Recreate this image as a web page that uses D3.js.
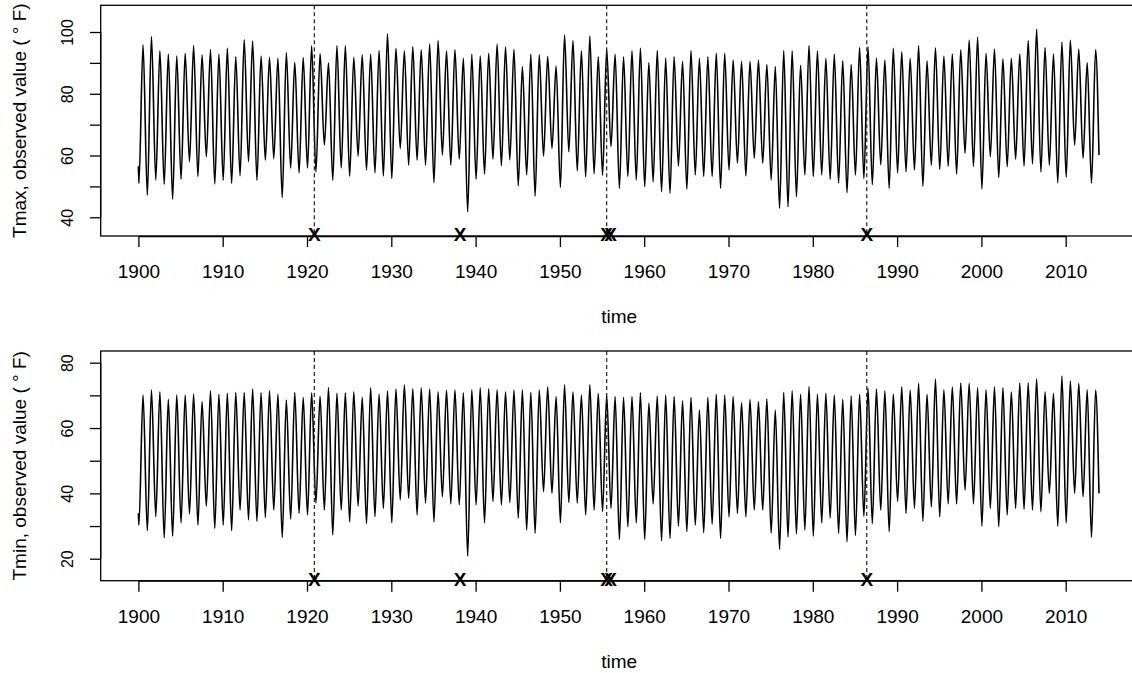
<!DOCTYPE html>
<html lang="en">
<head>
    <meta charset="UTF-8">
    <title>Tmax / Tmin observed values with changepoints</title>
    <script src="https://d3js.org/d3.v7.min.js"></script>
    <style>
        body { margin: 0; background: #fff; }
        text { font-family: "Liberation Sans", Arial, Helvetica, sans-serif; fill: #000; }
        .frame { fill: none; stroke: #000; stroke-width: 1.3; }
        .series { fill: none; stroke: #000; stroke-width: 1.6; stroke-linejoin: round; }
        .cp-line { stroke: #222; stroke-width: 1.2; stroke-dasharray: 4, 3; }
        .axis line, .axis path { stroke: #000; stroke-width: 1.3; }
    </style>
</head>
<body>
    <svg width="1132" height="673"></svg>

    <script>
        // Years 1900..2013, one summer peak and one winter trough read per year
        const years = d3.range(1900, 2014);

        const tmaxPeak = [
            95.8, 98.5, 93.9, 92.8, 92.2, 93.1, 95.6, 92.6, 94.3, 92.8,
            94.7, 92.0, 97.5, 97.1, 92.2, 91.8, 91.5, 93.3, 90.2, 91.7,
            95.5, 93.0, 90.0, 95.5, 95.5, 91.8, 92.6, 92.8, 94.0, 99.4,
            94.7, 93.9, 95.3, 94.3, 96.1, 97.2, 93.9, 94.3, 91.5, 92.8,
            92.3, 93.1, 96.1, 95.2, 94.4, 88.8, 92.8, 92.6, 92.1, 89.0,
            99.0, 97.2, 93.9, 98.7, 92.0, 94.4, 92.8, 92.0, 93.9, 94.7,
            90.1, 94.0, 91.5, 92.0, 90.5, 94.0, 91.5, 92.0, 93.1, 93.1,
            90.9, 90.5, 90.5, 90.9, 89.5, 88.8, 93.9, 93.9, 89.2, 95.6,
            93.9, 91.5, 92.8, 90.7, 89.5, 95.0, 95.2, 91.5, 90.9, 94.7,
            93.6, 91.5, 95.5, 90.7, 94.9, 92.2, 92.9, 94.2, 97.4, 98.3,
            93.1, 94.5, 91.3, 91.5, 92.9, 97.2, 100.9, 95.0, 92.9, 96.7,
            97.3, 94.5, 90.1, 94.2
        ];
        const tmaxTrough = [
            51.0, 47.2, 52.1, 50.7, 45.9, 52.3, 58.0, 53.2, 59.6, 50.8,
            52.0, 51.0, 53.5, 58.0, 52.0, 58.5, 59.0, 46.4, 55.9, 54.4,
            56.0, 54.7, 63.4, 52.0, 56.0, 53.3, 59.8, 55.3, 54.4, 53.4,
            52.6, 62.3, 56.9, 58.5, 56.9, 51.2, 60.2, 56.9, 58.8, 41.8,
            52.3, 54.0, 58.8, 56.7, 58.6, 50.2, 53.7, 46.9, 59.8, 62.3,
            49.7, 61.2, 55.1, 53.1, 54.1, 53.6, 62.9, 49.4, 53.2, 52.1,
            49.9, 51.5, 48.3, 47.8, 56.6, 49.1, 53.7, 53.2, 53.2, 49.4,
            55.3, 57.5, 53.4, 59.1, 57.5, 52.1, 42.9, 43.4, 46.7, 53.7,
            53.2, 53.7, 52.3, 51.1, 48.0, 53.7, 52.6, 50.6, 57.0, 49.4,
            54.4, 54.7, 55.3, 50.1, 56.9, 55.5, 56.5, 54.0, 60.7, 56.5,
            49.2, 59.6, 52.9, 56.4, 58.8, 56.6, 57.3, 54.7, 56.9, 51.2,
            53.0, 63.4, 59.1, 51.0
        ];
        const tminPeak = [
            70.1, 71.6, 71.1, 68.8, 70.1, 70.1, 70.4, 68.1, 71.4, 70.3,
            70.6, 70.9, 70.9, 71.9, 70.8, 71.4, 70.4, 68.6, 70.9, 69.4,
            70.8, 69.8, 72.4, 70.6, 70.8, 71.1, 69.4, 72.3, 70.4, 71.4,
            71.9, 73.2, 72.0, 72.3, 71.9, 71.1, 71.6, 71.7, 70.8, 71.7,
            72.3, 72.0, 71.7, 71.1, 71.6, 71.6, 70.9, 71.6, 72.6, 69.6,
            73.2, 71.1, 70.1, 73.2, 70.6, 70.1, 69.6, 69.4, 69.6, 70.8,
            67.6, 69.8, 70.1, 69.6, 68.3, 69.3, 65.5, 69.3, 70.3, 70.1,
            69.6, 67.8, 68.8, 68.1, 68.9, 65.5, 70.9, 71.4, 70.3, 72.7,
            70.3, 70.6, 70.1, 68.8, 69.8, 70.3, 72.2, 71.9, 71.4, 70.4,
            72.6, 71.6, 73.7, 70.3, 75.0, 71.7, 72.6, 73.8, 73.7, 72.3,
            71.7, 72.6, 72.3, 71.1, 73.8, 73.8, 75.0, 71.1, 70.6, 75.9,
            74.4, 73.7, 71.7, 71.6
        ];
        const tminTrough = [
            30.3, 28.6, 32.9, 26.4, 26.9, 31.0, 33.7, 30.3, 36.1, 29.3,
            30.3, 28.6, 34.9, 31.9, 31.4, 32.6, 34.9, 26.5, 32.1, 33.9,
            33.4, 37.0, 34.9, 27.3, 34.9, 31.3, 36.1, 30.8, 32.9, 35.4,
            31.0, 38.0, 38.5, 33.4, 37.0, 31.3, 39.0, 36.8, 36.5, 20.8,
            36.5, 31.0, 37.5, 36.5, 37.2, 32.4, 28.8, 27.8, 40.5, 40.0,
            31.0, 37.2, 37.0, 33.4, 34.9, 34.4, 35.4, 25.9, 29.8, 31.0,
            25.9, 36.8, 25.5, 26.2, 30.0, 28.3, 30.3, 28.0, 30.6, 26.2,
            32.8, 33.9, 32.8, 34.9, 34.9, 27.8, 22.9, 26.7, 27.6, 28.8,
            26.9, 31.0, 32.4, 27.8, 25.2, 27.1, 33.0, 30.8, 34.9, 28.3,
            37.5, 33.9, 35.4, 31.5, 35.9, 32.8, 36.8, 36.8, 41.0, 36.8,
            30.0, 35.4, 29.8, 33.4, 35.4, 35.1, 34.9, 34.4, 40.0, 30.0,
            31.0, 40.0, 39.0, 26.6
        ];
        // first (Jan 1900) and last (Dec 2013) observations
        const tmaxEnds = [56.5, 60.2];
        const tminEnds = [33.9, 40.0];

        // Detected changepoints (dashed lines) and all candidate points (X marks)
        const changeLines = [1920.87, 1955.55, 1986.4];
        const changeMarks = [1920.87, 1938.15, 1955.55, 1956.0, 1986.4];

        const xTicks = d3.range(1900, 2011, 10);

        const svg = d3.select("svg");

        // Shared time scale (plot frame runs past the right edge of the picture)
        const frameLeft = 100.7, frameRight = 1137.7;
        const x = d3.scaleLinear().domain([1900, 2010]).range([138.4, 1065.7]);

        const panels = [
            { name: "Tmax", peak: tmaxPeak, trough: tmaxTrough, ends: tmaxEnds,
              top: 5.3, bottom: 236, yDomain: [33.94, 108.65],
              yTicks: [40, 50, 60, 70, 80, 90, 100], yLabels: [40, 60, 80, 100] },
            { name: "Tmin", peak: tminPeak, trough: tminTrough, ends: tminEnds,
              top: 351, bottom: 580.7, yDomain: [13.27, 83.58],
              yTicks: [20, 30, 40, 50, 60, 70, 80], yLabels: [20, 40, 60, 80] }
        ];

        const lineGenerator = d3.line()
            .curve(d3.curveMonotoneX)
            .x(d => x(d.t));

        panels.forEach(p => {
            const y = d3.scaleLinear().domain(p.yDomain).range([p.bottom, p.top]);
            const g = svg.append("g");

            // build the seasonal series: winter trough then summer peak for each year
            const series = [{ t: 1900.0, v: p.ends[0] }];
            years.forEach((yr, i) => {
                series.push({ t: yr + 0.06, v: p.trough[i] });
                series.push({ t: yr + 0.55, v: p.peak[i] });
            });
            series.push({ t: 2013.95, v: p.ends[1] });

            g.append("path")
                .datum(series)
                .attr("class", "series")
                .attr("d", lineGenerator.y(d => y(d.v)));

            // changepoint lines
            g.selectAll(".cp-line")
                .data(changeLines)
                .join("line")
                .attr("class", "cp-line")
                .attr("x1", d => x(d)).attr("x2", d => x(d))
                .attr("y1", p.top).attr("y2", p.bottom);

            // X marks on the bottom of the plot region
            g.selectAll(".cp-mark")
                .data(changeMarks)
                .join("text")
                .attr("class", "cp-mark")
                .attr("x", d => x(d))
                .attr("y", p.bottom - 1.5)
                .attr("text-anchor", "middle")
                .attr("dominant-baseline", "central")
                .attr("font-size", 19)
                .attr("font-weight", "bold")
                .text("X");

            // frame
            g.append("rect")
                .attr("class", "frame")
                .attr("x", frameLeft).attr("y", p.top)
                .attr("width", frameRight - frameLeft)
                .attr("height", p.bottom - p.top);

            // bottom axis
            const xAxis = g.append("g")
                .attr("class", "axis")
                .attr("transform", `translate(0,${p.bottom})`)
                .call(d3.axisBottom(x).tickValues(xTicks).tickSize(11).tickSizeOuter(0).tickFormat(d3.format("d")));
            xAxis.selectAll("text")
                .attr("y", 42.3).attr("dy", null)
                .attr("font-size", 19);

            // left axis, R-style rotated labels, every other tick labelled
            const yAxis = g.append("g")
                .attr("class", "axis")
                .attr("transform", `translate(${frameLeft},0)`)
                .call(d3.axisLeft(y).tickValues(p.yTicks).tickSize(10.7)
                    .tickFormat(d => p.yLabels.includes(d) ? d : ""));
            yAxis.select(".domain").remove();
            yAxis.append("line")
                .attr("y1", y(p.yTicks[0])).attr("y2", y(p.yTicks[p.yTicks.length - 1]));
            yAxis.selectAll("text")
                .attr("x", null).attr("dy", null)
                .attr("text-anchor", "middle")
                .attr("transform", "translate(-28.2,0) rotate(-90)")
                .attr("font-size", 16);
            svg.selectAll(".axis text").attr("font-family", null);

            // axis titles
            g.append("text")
                .attr("x", (frameLeft + frameRight) / 2)
                .attr("y", p.bottom + 87.3)
                .attr("text-anchor", "middle")
                .attr("font-size", 19)
                .text("time");

            g.append("text")
                .attr("transform", `translate(26,${(p.top + p.bottom) / 2}) rotate(-90)`)
                .attr("text-anchor", "middle")
                .attr("font-size", 19)
                .text(`${p.name}, observed value ( \u00B0 F)`);
        });
    </script>
</body>
</html>
